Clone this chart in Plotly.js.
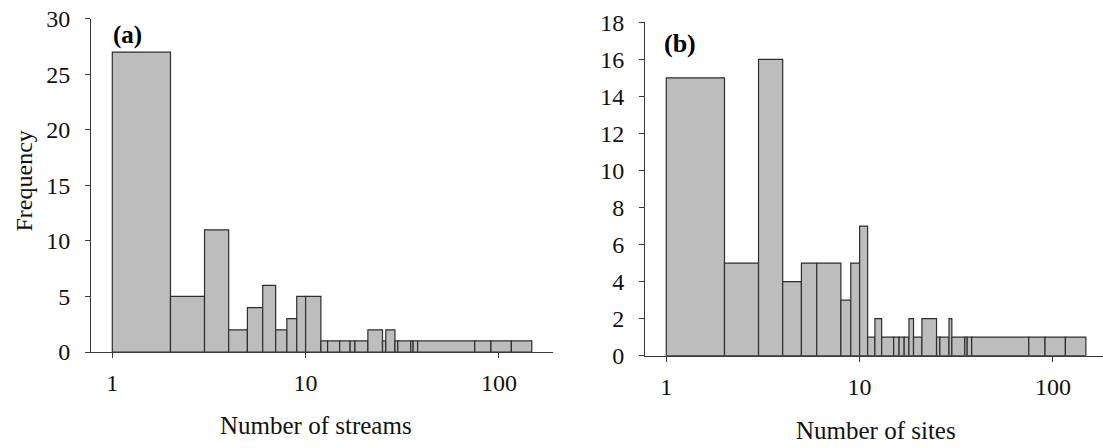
<!DOCTYPE html>
<html>
<head>
<meta charset="utf-8">
<script src="https://cdn.plot.ly/plotly-3.0.1.min.js"></script>
<style>
  html, body { margin: 0; padding: 0; background: #fff; }
  #chart { width: 1103px; height: 448px; }
</style>
</head>
<body>
<div id="chart"></div>
<script>
// Bin edges (left edge of each bar, plus the final right edge) and counts
const streamEdges = [1, 2, 3, 4, 5, 6, 7, 8, 9, 10, 12, 13, 15, 17, 18, 21, 25, 26, 29, 30, 35, 36, 38, 75, 91, 116, 148];
const streamFreq  = [27, 5, 11, 2, 4, 6, 2, 3, 5, 5, 1, 1, 1, 1, 1, 2, 1, 2, 1, 1, 1, 1, 1, 1, 1, 1];

const siteEdges = [1, 2, 3, 4, 5, 6, 8, 9, 10, 11, 12, 13, 15, 16, 17, 18, 19, 21, 25, 26, 29, 30, 35, 36, 38, 75, 91, 116, 148];
const siteFreq  = [15, 5, 16, 4, 5, 5, 3, 5, 7, 1, 2, 1, 1, 1, 1, 2, 1, 2, 1, 1, 2, 1, 1, 1, 1, 1, 1, 1];

const xTickVals = [1, 10, 100];
const xTickText = ['1', '10', '100'];

const W = 1103, H = 448;
const FONT = "'Liberation Serif', 'Times New Roman', serif";
const AXIS_COLOR = '#3a3a3a';

function histTrace(edges, freq, xa, ya) {
  const left = edges.slice(0, -1);
  const widths = left.map((v, i) => edges[i + 1] - v);
  return {
    type: 'bar',
    x: left,
    y: freq,
    width: widths,
    offset: 0,
    xaxis: xa,
    yaxis: ya,
    marker: { color: '#bdbdbd', line: { color: '#2e2e2e', width: 1.2 } },
    hoverinfo: 'x+y',
    showlegend: false
  };
}

function xAxis(domain, range, anchor) {
  return {
    type: 'log',
    domain: domain,
    range: range,
    anchor: anchor,
    tickvals: xTickVals,
    ticktext: xTickText,
    ticks: 'outside',
    ticklen: 5,
    tickwidth: 1,
    tickcolor: AXIS_COLOR,
    ticklabelstandoff: 4,
    showline: true,
    linecolor: AXIS_COLOR,
    linewidth: 1,
    showgrid: false,
    zeroline: false,
    automargin: false,
    tickfont: { family: FONT, size: 24, color: '#111' }
  };
}

function yAxis(domain, range, dtick, anchor) {
  return {
    domain: domain,
    range: range,
    dtick: dtick,
    anchor: anchor,
    ticks: 'outside',
    ticklen: 5,
    tickwidth: 1,
    tickcolor: AXIS_COLOR,
    ticklabelstandoff: 10,
    showline: true,
    linecolor: AXIS_COLOR,
    linewidth: 1,
    showgrid: false,
    zeroline: false,
    automargin: false,
    tickfont: { family: FONT, size: 24, color: '#111' }
  };
}

const data = [
  histTrace(streamEdges, streamFreq, 'x', 'y'),
  histTrace(siteEdges, siteFreq, 'x2', 'y2')
];

const layout = {
  width: W,
  height: H,
  margin: { l: 0, r: 0, t: 0, b: 0 },
  paper_bgcolor: '#fff',
  plot_bgcolor: 'rgba(0,0,0,0)',
  font: { family: FONT, size: 24, color: '#111' },
  xaxis:  xAxis([91 / W, 553 / W], [-0.1102, 2.280], 'y'),
  yaxis:  yAxis([1 - 352 / H, 1 - 18.7 / H], [0, 30], 5, 'x'),
  xaxis2: xAxis([645 / W, 1], [-0.1102, 2.259], 'y2'),
  yaxis2: yAxis([1 - 355.7 / H, 1 - 22.3 / H], [0, 18], 2, 'x2'),
  annotations: [
    { text: '(a)', xref: 'paper', yref: 'paper', x: 127.5 / W, y: 1 - 35 / H,
      xanchor: 'center', yanchor: 'middle', showarrow: false,
      font: { family: FONT, size: 25, color: '#000', weight: 'bold' } },
    { text: '(b)', xref: 'paper', yref: 'paper', x: 680 / W, y: 1 - 44 / H,
      xanchor: 'center', yanchor: 'middle', showarrow: false,
      font: { family: FONT, size: 26, color: '#000', weight: 'bold' } },
    { text: 'Frequency', xref: 'paper', yref: 'paper', x: 23.5 / W, y: 1 - 181 / H,
      xanchor: 'center', yanchor: 'middle', textangle: -90, showarrow: false,
      font: { family: FONT, size: 24, color: '#111' } },
    { text: 'Number of streams', xref: 'paper', yref: 'paper', x: 316 / W, y: 1 - 425 / H,
      xanchor: 'center', yanchor: 'middle', showarrow: false,
      font: { family: FONT, size: 25, color: '#111' } },
    { text: 'Number of sites', xref: 'paper', yref: 'paper', x: 876 / W, y: 1 - 430 / H,
      xanchor: 'center', yanchor: 'middle', showarrow: false,
      font: { family: FONT, size: 25, color: '#111' } }
  ]
};

Plotly.newPlot('chart', data, layout, { staticPlot: true, displayModeBar: false });
</script>
</body>
</html>
